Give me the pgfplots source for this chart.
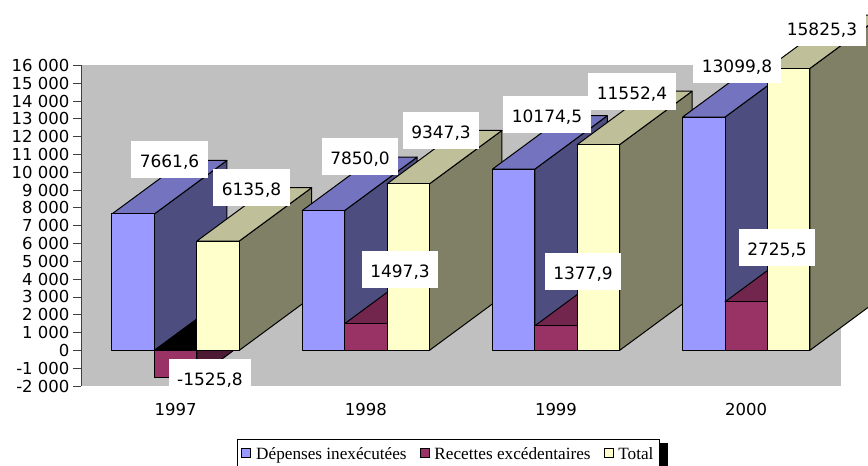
\documentclass[border=0pt]{standalone}
\usepackage{pgfplots}
\pgfplotsset{compat=1.18}
\usepackage{fontspec}
\setmainfont{DejaVu Sans}
\newfontfamily\legfont{Liberation Serif}
\usetikzlibrary{shadows}
\makeatletter
\tikzset{nopre/.code={\let\tikz@preactions\pgfutil@empty}}
\makeatother
\definecolor{bgc}{HTML}{C0C0C0}
\definecolor{bluef}{HTML}{9999FF}
\definecolor{bluet}{HTML}{7373BF}
\definecolor{blues}{HTML}{4D4D80}
\definecolor{redf}{HTML}{993366}
\definecolor{redt}{HTML}{73264D}
\definecolor{reds}{HTML}{4D1A33}
\definecolor{yelf}{HTML}{FFFFCC}
\definecolor{yelt}{HTML}{BFBF99}
\definecolor{yels}{HTML}{808066}
\def\bw{42.4}\def\ddx{72.5}\def\ddy{3000}
% #1 left edge of the bar, #2 value, #3 front, #4 top, #5 side colour
\newcommand\tbar[5]{%
  \edef\Bxa{\fpeval{#1}}%
  \edef\Bxb{\fpeval{#1+\bw}}%
  \edef\Bxc{\fpeval{#1+\ddx}}%
  \edef\Bxd{\fpeval{#1+\bw+\ddx}}%
  \edef\Blo{\fpeval{min(0,#2)}}%
  \edef\Bhi{\fpeval{max(0,#2)}}%
  \edef\BloD{\fpeval{min(0,#2)+\ddy}}%
  \edef\BhiD{\fpeval{max(0,#2)+\ddy}}%
  \addplot[forget plot, fill=#5, draw=black, line width=1pt, line join=round] coordinates {(\Bxb,\Blo) (\Bxb,\Bhi) (\Bxd,\BhiD) (\Bxd,\BloD)} -- cycle;
  \addplot[forget plot, fill=#4, draw=black, line width=1pt, line join=round] coordinates {(\Bxa,\Bhi) (\Bxb,\Bhi) (\Bxd,\BhiD) (\Bxc,\BhiD)} -- cycle;
  \addplot[forget plot, fill=#3, draw=black, line width=1pt, line join=round] coordinates {(\Bxa,\Blo) (\Bxb,\Blo) (\Bxb,\Bhi) (\Bxa,\Bhi)} -- cycle;
}
\tikzset{lab/.style={fill=white, inner xsep=8.5pt, inner ysep=8pt, text height=18.4pt, text depth=2pt, anchor=center, font=\fontsize{17}{17}\selectfont}}
\begin{document}
\begin{tikzpicture}
\begin{axis}[
  scale only axis, width=760pt, height=320.6pt,
  xmin=0, xmax=760, ymin=-2000, ymax=16000,
  clip=false,
  axis background/.style={fill=bgc},
  axis x line*=bottom, axis y line*=left,
  x axis line style={draw=none},
  y axis line style={draw=black!75, line width=0.8pt},
  xtick={94.6,284.8,475,665.2}, xticklabels={1997,1998,1999,2000},
  xtick style={draw=none},
  xticklabel style={yshift=-6pt},
  ytick distance=1000,
  scaled y ticks=false,
  tick align=outside, major tick length=8pt,
  ytick style={draw=black!75, line width=0.8pt},
  tick label style={font=\fontsize{16.5}{16.5}\selectfont},
  /pgf/number format/assume math mode=true,
  /pgf/number format/1000 sep={\ },
  legend columns=-1,
  legend style={at={(0.2053,0)}, anchor=north west, yshift=-53pt, draw=black, line width=0.8pt, fill=white,
    font=\legfont\fontsize{17.2}{17.2}\selectfont, inner xsep=4pt, inner ysep=6pt,
    /tikz/every odd column/.append style={column sep=3pt},
    /tikz/every even column/.append style={column sep=11pt},
    general shadow={fill=black, shadow xshift=8pt, shadow yshift=-4pt}},
  legend image code/.code={\draw[nopre, #1, line width=0.8pt] (0pt,-3pt) rectangle (9pt,6pt);},
]
\tbar{31}{7661.6}{bluef}{bluet}{blues}
\tbar{73.4}{-1525.8}{redf}{black}{reds}
\tbar{115.8}{6135.8}{yelf}{yelt}{yels}
\tbar{221.2}{7850.0}{bluef}{bluet}{blues}
\tbar{263.6}{1497.3}{redf}{redt}{reds}
\tbar{306.0}{9347.3}{yelf}{yelt}{yels}
\tbar{411.4}{10174.5}{bluef}{bluet}{blues}
\tbar{453.8}{1377.9}{redf}{redt}{reds}
\tbar{496.2}{11552.4}{yelf}{yelt}{yels}
\tbar{601.6}{13099.8}{bluef}{bluet}{blues}
\tbar{644.0}{2725.5}{redf}{redt}{reds}
\tbar{686.4}{15825.3}{yelf}{yelt}{yels}
\addlegendimage{fill=bluef, draw=black}
\addlegendentry{Dépenses inexécutées}
\addlegendimage{fill=redf, draw=black}
\addlegendentry{Recettes excédentaires}
\addlegendimage{fill=yelf, draw=black}
\addlegendentry{Total}
\node[lab] at (axis cs:88.5,10724) {7661,6};
\node[lab] at (axis cs:170.5,9152) {6135,8};
\node[lab] at (axis cs:129,-1516) {-1525,8};
\node[lab] at (axis cs:279,10893) {7850,0};
\node[lab] at (axis cs:360,12353) {9347,3};
\node[lab] at (axis cs:319,4548) {1497,3};
\node[lab] at (axis cs:466,13251) {10174,5};
\node[lab] at (axis cs:551,14543) {11552,4};
\node[lab] at (axis cs:502,4436) {1377,9};
\node[lab] at (axis cs:656,16059) {13099,8};
\node[lab] at (axis cs:741,18136) {15825,3};
\node[lab] at (axis cs:696,5783) {2725,5};
\coordinate (O) at (rel axis cs:0,0);
\end{axis}
\pgfresetboundingbox
\path[use as bounding box] (O) ++(-81pt,-80pt) rectangle ++(868pt,466pt);
\end{tikzpicture}
\end{document}
